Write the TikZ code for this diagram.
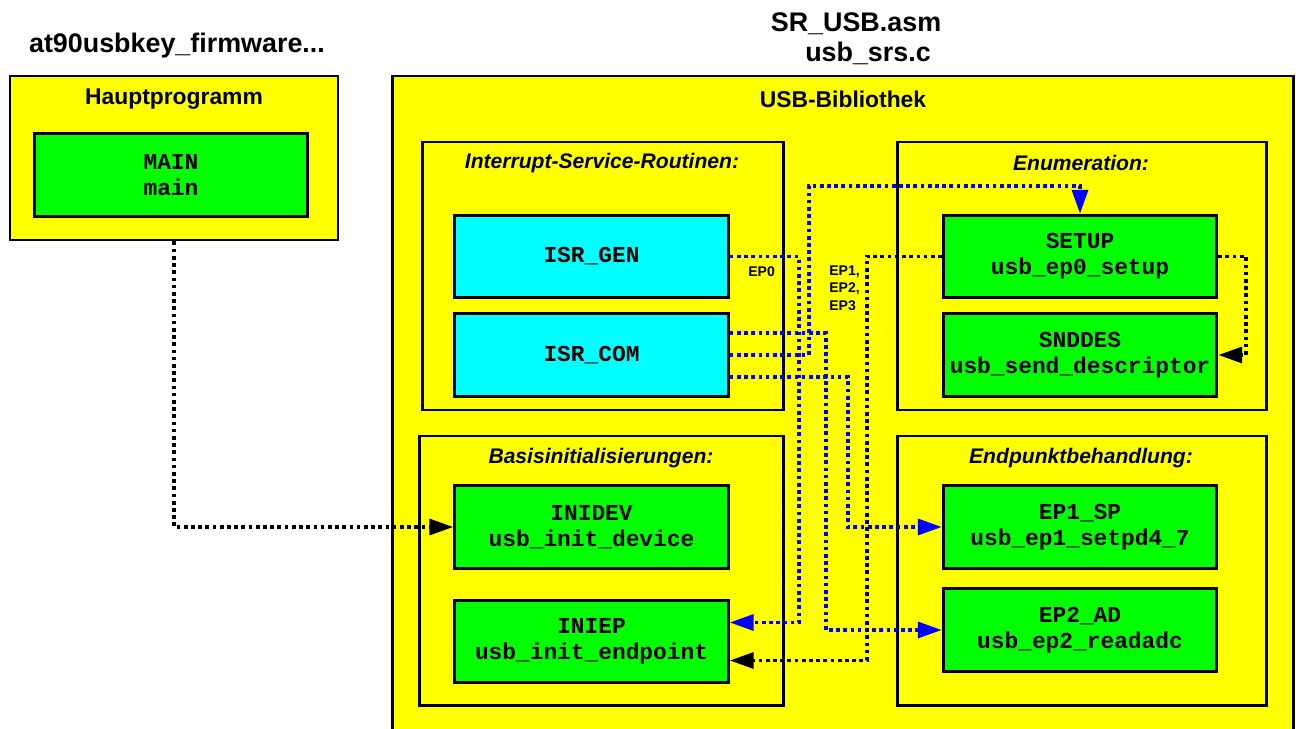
\documentclass[tikz,border=0pt]{standalone}
\usepackage{fontspec}
\setmainfont{Liberation Sans}
\setmonofont{Liberation Mono}
\usetikzlibrary{arrows.meta,fit,calc}
\definecolor{cyel}{RGB}{255,255,0}
\definecolor{cgrn}{RGB}{0,255,0}
\definecolor{ccyn}{RGB}{0,255,255}
\definecolor{cblu}{RGB}{0,0,255}
\begin{document}
\begin{tikzpicture}[x=0.02cm,y=-0.02cm,
 frame/.style={draw=black, line width=1.7pt, fill=cyel, inner sep=0pt},
 fbox/.style={draw=black, line width=1.7pt, inner sep=0pt, minimum width=5.47cm, minimum height=1.65cm, font=\ttfamily\bfseries\fontsize{13}{14.7}\selectfont, align=center},
 gbox/.style={fbox, fill=cgrn},
 cbox/.style={fbox, fill=ccyn},
 ttl/.style={font=\bfseries\fontsize{13}{15}\selectfont},
 gttl/.style={font=\bfseries\itshape\fontsize{12}{14}\selectfont},
 big/.style={font=\bfseries\fontsize{15.3}{17}\selectfont, align=center},
 con/.style={line width=2.1pt, dash pattern=on 2.1pt off 2pt},
 bcon/.style={con, draw=cblu, -{Triangle[length=13.6pt,width=9pt]}},
 kcon/.style={con, draw=black, -{Triangle[length=13.6pt,width=9pt]}},
 eplbl/.style={font=\bfseries\fontsize{8}{10.2}\selectfont, align=left, inner sep=0pt}
]
\fill[white] (0,0) rectangle (1300,729);
\useasboundingbox (0,0) rectangle (1300,729);

% top titles
\node[big] (t1) at (177,46) {at90usbkey\_firmware...};
\node[big] (t2) at (856,39) {SR\_USB.asm\\\hspace*{0.48cm}usb\_srs.c};

% main program
\node[frame, fit={(10,76) (338,240)}] (hp) {};
\node[ttl] (hpt) at (174,99) {Hauptprogramm};
\node[gbox] (main) at (171,175) {MAIN\\main};

% USB library
\node[frame, fit={(392,76) (1293,760)}] (usb) {};
\node[ttl] (usbt) at (843,99) {USB-Bibliothek};

% groups
\node[frame, fit={(422,142) (783,410)}] (gisr) {};
\node[gttl] (gisrt) at (602,163) {Interrupt-Service-Routinen:};
\node[frame, fit={(897,142) (1266,410)}] (genum) {};
\node[gttl] (genumt) at (1081,163) {Enumeration:};
\node[frame, fit={(419,436) (783,705)}] (gbas) {};
\node[gttl] (gbast) at (601,458) {Basisinitialisierungen:};
\node[frame, fit={(897,436) (1266,705)}] (gep) {};
\node[gttl] (gept) at (1081,458) {Endpunktbehandlung:};

% boxes
\node[cbox] (isrgen) at (591.5,256.5) {ISR\_GEN};
\node[cbox] (isrcom) at (591.5,355) {ISR\_COM};
\node[gbox] (setup) at (1080,256.5) {SETUP\\usb\_ep0\_setup};
\node[gbox] (snddes) at (1080,355) {SNDDES\\usb\_send\_descriptor};
\node[gbox] (inidev) at (591.5,527) {INIDEV\\usb\_init\_device};
\node[gbox] (iniep) at (591.5,641.5) {INIEP\\usb\_init\_endpoint};
\node[gbox] (ep1) at (1080,527) {EP1\_SP\\usb\_ep1\_setpd4\_7};
\node[gbox] (ep2) at (1080,630) {EP2\_AD\\usb\_ep2\_readadc};

% labels
\node[eplbl, anchor=west] (ep0l) at (748,272) {EP0};
\node[eplbl, anchor=north west] (epl) at (829,265) {EP1,\\EP2,\\EP3};

% blue connectors
\draw[bcon] (isrgen.east) -- ++(69,0) |- ($(iniep.east)+(0,-19)$);
\draw[bcon] ($(isrcom.east)+(0,-22)$) -- ++(96,0) |- (ep2.west);
\draw[bcon] (isrcom.east) -- ++(79,0) |- ($(setup.north)+(0,-28)$) -- (setup.north);
\draw[bcon] ($(isrcom.east)+(0,22)$) -- ++(118,0) |- (ep1.west);

% black connectors
\draw[kcon] (setup.west) -- ++(-75,0) |- ($(iniep.east)+(0,19)$);
\draw[kcon] (setup.east) -- ++(28,0) |- (snddes.east);
\draw[kcon] (hp.south) |- (inidev.west);
\end{tikzpicture}
\end{document}
